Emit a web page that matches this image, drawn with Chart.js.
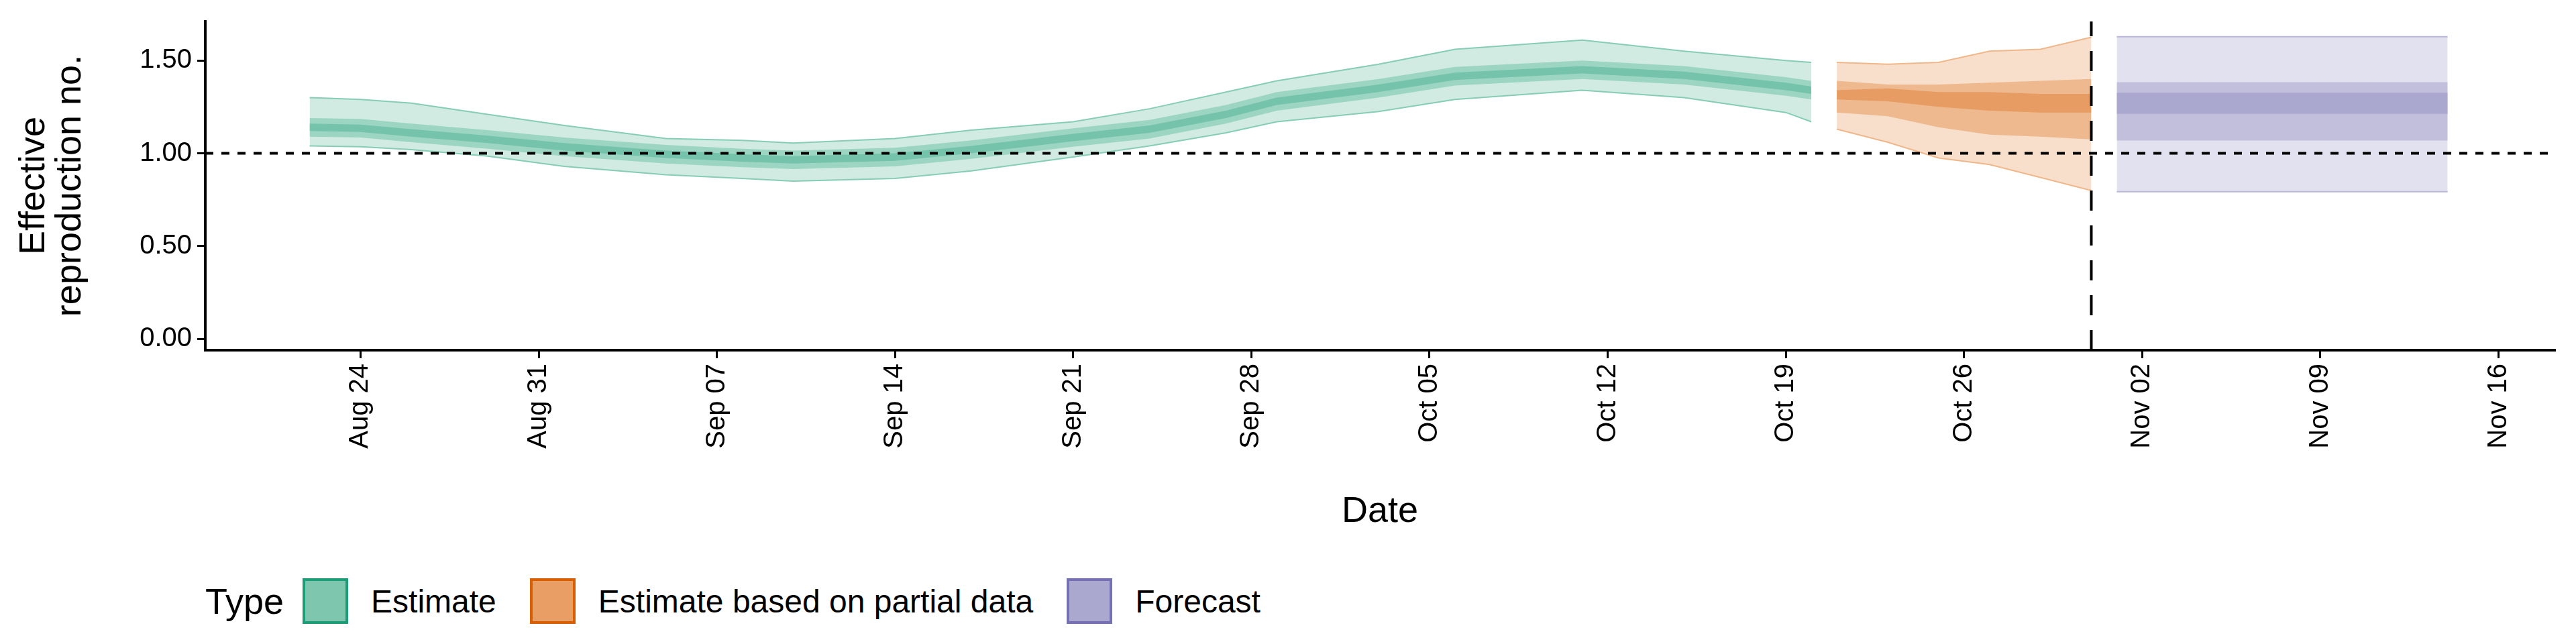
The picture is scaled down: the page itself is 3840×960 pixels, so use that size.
<!DOCTYPE html>
<html>
<head>
<meta charset="utf-8">
<script src="https://cdn.jsdelivr.net/npm/chart.js@4"></script>
<style>
  body { margin: 0; background: #fff; font-family: "Liberation Sans", Arial, sans-serif; }
  #wrap { width: 3840px; height: 800px; position: relative; }
  #legend { position: absolute; top: 862px; left: 306px; display: flex; align-items: center; font-size: 48px; color: #000; }
  #legend .title { font-size: 54px; margin-right: 28px; }
  #legend .box { width: 68px; height: 68px; box-sizing: border-box; border: 4px solid; margin-right: 34px; }
  #legend .lab { margin-right: 50px; }
</style>
</head>
<body>
<div id="wrap"><canvas id="chart" width="3840" height="800"></canvas></div>
<div id="legend">
  <span class="title">Type</span>
  <span class="box" style="background:#7fc6ae;border-color:#1b9e77"></span><span class="lab">Estimate</span>
  <span class="box" style="background:#e99e66;border-color:#d95f02"></span><span class="lab">Estimate based on partial data</span>
  <span class="box" style="background:#aaa8cf;border-color:#7570b3"></span><span class="lab">Forecast</span>
</div>
<script>
// day 0 = Aug 24
const tickDays = [0, 7, 14, 21, 28, 35, 42, 49, 56, 63, 70, 77, 84];
const tickLabels = ["Aug 24", "Aug 31", "Sep 07", "Sep 14", "Sep 21", "Sep 28", "Oct 05", "Oct 12", "Oct 19", "Oct 26", "Nov 02", "Nov 09", "Nov 16"];
const yTicks = [0, 0.5, 1, 1.5];

const estDays = [-2, 0, 2, 5, 8, 12, 15, 17, 21, 24, 28, 31, 34, 36, 40, 43, 48, 52, 56, 57];
const estU90 = [1.30, 1.29, 1.27, 1.21, 1.15, 1.08, 1.07, 1.055, 1.08, 1.125, 1.17, 1.24, 1.33, 1.39, 1.48, 1.56, 1.61, 1.55, 1.50, 1.49];
const estL90 = [1.04, 1.035, 1.02, 0.985, 0.93, 0.885, 0.865, 0.85, 0.865, 0.905, 0.98, 1.04, 1.11, 1.17, 1.225, 1.29, 1.34, 1.30, 1.22, 1.17];
const estU50 = [1.19, 1.185, 1.16, 1.125, 1.085, 1.045, 1.025, 1.015, 1.03, 1.07, 1.135, 1.18, 1.26, 1.33, 1.40, 1.465, 1.50, 1.47, 1.41, 1.39];
const estL50 = [1.09, 1.085, 1.06, 1.025, 0.985, 0.945, 0.925, 0.915, 0.93, 0.97, 1.035, 1.08, 1.16, 1.23, 1.30, 1.365, 1.40, 1.37, 1.31, 1.29];
const estU20 = [1.16, 1.155, 1.13, 1.095, 1.055, 1.015, 0.995, 0.985, 1.00, 1.04, 1.105, 1.15, 1.23, 1.30, 1.37, 1.435, 1.47, 1.44, 1.38, 1.36];
const estL20 = [1.12, 1.115, 1.09, 1.055, 1.015, 0.975, 0.955, 0.945, 0.96, 1.00, 1.065, 1.11, 1.19, 1.26, 1.33, 1.395, 1.43, 1.40, 1.34, 1.32];

const partDays = [58, 60, 62, 64, 66, 68];
const partU90 = [1.49, 1.48, 1.49, 1.55, 1.56, 1.625];
const partL90 = [1.13, 1.06, 0.975, 0.94, 0.87, 0.80];
const partU50 = [1.39, 1.37, 1.37, 1.38, 1.39, 1.40];
const partL50 = [1.22, 1.20, 1.14, 1.10, 1.09, 1.075];
const partU20 = [1.34, 1.35, 1.33, 1.33, 1.32, 1.32];
const partL20 = [1.29, 1.28, 1.25, 1.23, 1.22, 1.22];

const fcDays = [69, 82];
const fcU90 = [1.628, 1.628];
const fcL90 = [0.793, 0.793];
const fcU50 = [1.383, 1.383];
const fcL50 = [1.069, 1.069];
const fcU20 = [1.326, 1.326];
const fcL20 = [1.212, 1.212];

const xMin = -6.1, xMax = 86.2, yMin = -0.06, yMax = 1.71;
const cutoffDay = 68;

function pts(days, vals) { return days.map((d, i) => ({ x: d, y: vals[i] })); }

const datasets = [];
// order: higher value drawn first (underneath)
function band(days, lo, hi, fillCol, edgeCol, edgeW, order) {
  datasets.push({ data: pts(days, lo), order: order, borderColor: edgeCol, borderWidth: edgeW, pointRadius: 0, fill: false, tension: 0 });
  datasets.push({ data: pts(days, hi), order: order, borderColor: edgeCol, borderWidth: edgeW, pointRadius: 0, fill: '-1', backgroundColor: fillCol, tension: 0 });
}
band(estDays, estL90, estU90, '#d2ebe2', '#86cdb5', 2, 3);
band(estDays, estL50, estU50, '#9dd5c3', 'rgba(0,0,0,0)', 0, 2);
band(estDays, estL20, estU20, '#74c3aa', 'rgba(0,0,0,0)', 0, 1);
band(partDays, partL90, partU90, '#f7dfcb', '#f0b78a', 2, 3);
band(partDays, partL50, partU50, '#eeb98e', 'rgba(0,0,0,0)', 0, 2);
band(partDays, partL20, partU20, '#e69c63', 'rgba(0,0,0,0)', 0, 1);
band(fcDays, fcL90, fcU90, '#e2e1ef', '#b9b6da', 2, 3);
band(fcDays, fcL50, fcU50, '#c2bfdc', 'rgba(0,0,0,0)', 0, 2);
band(fcDays, fcL20, fcU20, '#aaa8cf', 'rgba(0,0,0,0)', 0, 1);

datasets.push({ data: [{ x: xMin, y: 1 }, { x: xMax, y: 1 }], order: 0, borderColor: '#000', borderWidth: 4, borderDash: [12, 12], pointRadius: 0, fill: false });
datasets.push({ data: [{ x: cutoffDay, y: yMin }, { x: cutoffDay, y: yMax }], order: 0, borderColor: '#000', borderWidth: 4, borderDash: [30, 22], pointRadius: 0, fill: false });

new Chart(document.getElementById('chart'), {
  type: 'line',
  data: { datasets: datasets },
  options: {
    responsive: false,
    animation: false,
    layout: { padding: { left: 20, right: 32, top: 29, bottom: 0 } },
    plugins: { legend: { display: false }, tooltip: { enabled: false } },
    scales: {
      x: {
        type: 'linear', min: xMin, max: xMax,
        afterBuildTicks: s => { s.ticks = tickDays.map(v => ({ value: v })); },
        afterFit: s => { s.height = 278; },
        ticks: {
          callback: v => tickLabels[tickDays.indexOf(v)],
          minRotation: 90, maxRotation: 90, color: '#000',
          font: { family: 'Liberation Sans', size: 40 }, padding: 8
        },
        grid: { drawOnChartArea: false, color: '#000', lineWidth: 3, tickLength: 12 },
        border: { color: '#000', width: 4 },
        title: { display: true, text: 'Date', color: '#000', font: { family: 'Liberation Sans', size: 54 }, padding: { top: 4 } }
      },
      y: {
        min: yMin, max: yMax,
        afterBuildTicks: s => { s.ticks = yTicks.map(v => ({ value: v })); },
        afterFit: s => { s.width = 286; },
        ticks: {
          callback: v => v.toFixed(2), color: '#000',
          font: { family: 'Liberation Sans', size: 40 }, padding: 8
        },
        grid: { drawOnChartArea: false, color: '#000', lineWidth: 3, tickLength: 12 },
        border: { color: '#000', width: 4 },
        title: { display: true, text: ['Effective', 'reproduction no.'], color: '#000', font: { family: 'Liberation Sans', size: 54, lineHeight: 1.0 }, padding: { bottom: 4 } }
      }
    }
  }
});
</script>
</body>
</html>
